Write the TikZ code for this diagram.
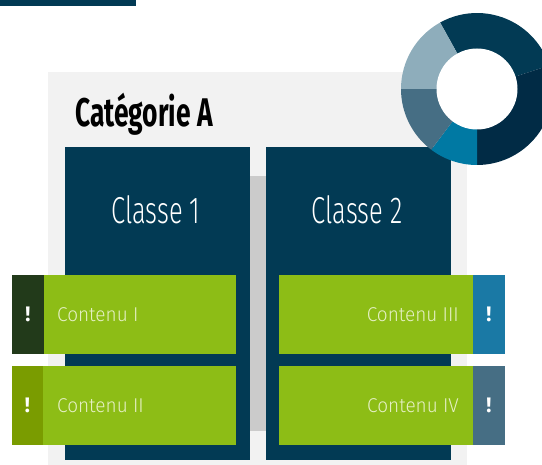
\documentclass[tikz,border=0pt]{standalone}
\usepackage{fontspec}
\newfontfamily\titlefont[FakeStretch=0.66]{Fira Sans}
\newfontfamily\classfont[FakeStretch=0.68]{Fira Sans Light}
\newfontfamily\itemfont[FakeStretch=0.95]{Fira Sans Light}
\newfontfamily\markfont{Fira Sans}
\definecolor{navy}{HTML}{023A54}
\definecolor{darknavy}{HTML}{012B45}
\definecolor{panelgray}{HTML}{F2F2F2}
\definecolor{stripgray}{HTML}{CBCBCB}
\definecolor{leaf}{HTML}{8DBD16}
\definecolor{darkleaf}{HTML}{223A1A}
\definecolor{olive}{HTML}{7A9C00}
\definecolor{sea}{HTML}{1A79A5}
\definecolor{slate}{HTML}{466E84}
\definecolor{teal}{HTML}{0079A3}
\definecolor{mist}{HTML}{8EADBB}
\definecolor{itemtext}{HTML}{E6F0C6}

\begin{document}
\begin{tikzpicture}[x=1pt, y=-1pt,
  block/.style={fill=#1, inner sep=0, outer sep=0},
  item box/.style={block=leaf, minimum width=194, minimum height=79},
  mark box/.style={block=#1, minimum width=32, minimum height=79, text=white, font=\markfont\bfseries\fontsize{21}{21}\selectfont},
  item text/.style={text=itemtext, inner sep=0, font=\itemfont\fontsize{20}{20}\selectfont},
  class text/.style={text=white, inner sep=0, font=\classfont\fontsize{37.5}{37.5}\selectfont}]
  \useasboundingbox (0,0) rectangle (542,465);
  \clip (0,0) rectangle (542,465);

  \node[block=navy, minimum width=136, minimum height=6] (bar) at (68,3) {};
  \node[block=panelgray, minimum width=419, minimum height=393] (panel) at (257.5,268.5) {};
  \node[anchor=base west, inner sep=0, font=\titlefont\bfseries\fontsize{40}{40}\selectfont] (title) at (75,126.5) {Catégorie A};

  \node[block=stripgray, minimum width=40, minimum height=255] (strip) at (260,303.5) {};
  \node[block=navy, minimum width=185, minimum height=313] (c1) at (157.5,303.5) {};
  \node[block=navy, minimum width=185, minimum height=313] (c2) at (358.5,303.5) {};
  \node[class text] (t1) at (156,210) {Classe 1};
  \node[class text] (t2) at (357,210) {Classe 2};

  \node[item box, minimum width=192] (g1) at (140,314.5) {};
  \node[item box, minimum width=193] (g2) at (139.5,405.5) {};
  \node[item box] (g3) at (376,314.5) {};
  \node[item box] (g4) at (376,405.5) {};

  \node[mark box=darkleaf] (e1) at (28,314.5) {!};
  \node[mark box=olive, minimum width=31] (e2) at (27.5,405.5) {!};
  \node[mark box=sea] (e3) at (489,314.5) {!};
  \node[mark box=slate] (e4) at (489,405.5) {!};

  \node[item text, anchor=west] (i1) at ([xshift=13pt]g1.west) {Contenu I};
  \node[item text, anchor=west] (i2) at ([xshift=14pt]g2.west) {Contenu II};
  \node[item text, anchor=east] (i3) at ([xshift=-14pt]g3.east) {Contenu III};
  \node[item text, anchor=east] (i4) at ([xshift=-14pt]g4.east) {Contenu IV};

  % ring
  \coordinate (dc) at (477,89);
  \fill[navy] (dc) -- +(119:76pt) arc[start angle=119, end angle=18, radius=76pt] -- cycle;
  \fill[darknavy] (dc) -- +(18:76pt) arc[start angle=18, end angle=-90, radius=76pt] -- cycle;
  \fill[teal] (dc) -- +(270:76pt) arc[start angle=270, end angle=233, radius=76pt] -- cycle;
  \fill[slate] (dc) -- +(233:76pt) arc[start angle=233, end angle=180, radius=76pt] -- cycle;
  \fill[mist] (dc) -- +(180:76pt) arc[start angle=180, end angle=119, radius=76pt] -- cycle;
  \fill[white] (dc) circle[radius=40.5pt];
\end{tikzpicture}
\end{document}
